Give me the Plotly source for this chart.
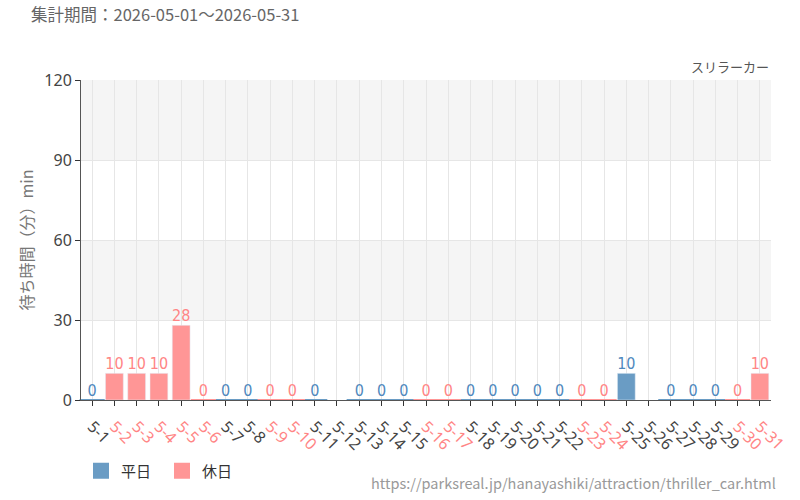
import plotly.graph_objects as go

days = ["5-1", "5-2", "5-3", "5-4", "5-5", "5-6", "5-7", "5-8", "5-9", "5-10",
        "5-11", "5-12", "5-13", "5-14", "5-15", "5-16", "5-17", "5-18", "5-19", "5-20",
        "5-21", "5-22", "5-23", "5-24", "5-25", "5-26", "5-27", "5-28", "5-29", "5-30", "5-31"]
wait_min = [0, 10, 10, 10, 28, 0, 0, 0, 0, 0,
            0, None, 0, 0, 0, 0, 0, 0, 0, 0,
            0, 0, 0, 0, 10, None, 0, 0, 0, 0, 10]
holiday = [False, True, True, True, True, True, False, False, True, True,
           False, False, False, False, False, True, True, False, False, False,
           False, False, True, True, False, False, False, False, False, True, True]
y_ticks = [0, 30, 60, 90, 120]

BLUE = "#6a9cc4"
PINK = "#ff9696"
BLUE_T = "#4f88bd"
PINK_T = "#ff8585"
FONT = "Noto Sans CJK JP, Noto Sans, sans-serif"
NUM_FONT = "DejaVu Sans Condensed, Liberation Sans Narrow, sans-serif"

fig = go.Figure()

for is_hol, name, col, tcol in [(False, "平日", BLUE, BLUE_T), (True, "休日", PINK, PINK_T)]:
    xs = [d for d, h, v in zip(days, holiday, wait_min) if h == is_hol and v is not None]
    ys = [v for d, h, v in zip(days, holiday, wait_min) if h == is_hol and v is not None]
    fig.add_trace(go.Bar(x=xs, y=ys, name=name, marker_color=col, width=0.8,
                         hoverinfo="skip", showlegend=False))
    zx = [x for x, y in zip(xs, ys) if y == 0]
    fig.add_trace(go.Scatter(x=zx, y=[0] * len(zx), mode="markers", showlegend=False,
                             marker=dict(symbol="line-ew", size=18,
                                         line=dict(color=col, width=2)),
                             cliponaxis=False, hoverinfo="skip"))
    fig.add_trace(go.Scatter(x=xs, y=ys, mode="text", text=[str(v) for v in ys],
                             textposition="top center", showlegend=False,
                             textfont=dict(family=NUM_FONT, size=16, color=tcol),
                             cliponaxis=False, hoverinfo="skip"))
    # legend entry
    fig.add_trace(go.Scatter(x=[None], y=[None], mode="markers", name=name,
                             marker=dict(symbol="square", size=16, color=col),
                             hoverinfo="skip"))

ticktext = [f"<span style='color:{PINK_T if h else '#444'}'>{d}</span>"
            for d, h in zip(days, holiday)]

# alternating background bands
for lo, hi in [(30, 60), (90, 120)]:
    fig.add_hrect(y0=lo, y1=hi, fillcolor="#f5f5f5", line_width=0, layer="below")

fig.update_layout(
    width=800, height=500,
    margin=dict(l=81, r=29, t=80, b=100),
    paper_bgcolor="white", plot_bgcolor="white",
    barmode="overlay",
    font=dict(family=FONT, color="#444"),
    xaxis=dict(categoryorder="array", categoryarray=days,
               tickvals=days, ticktext=ticktext, tickangle=45,
               tickfont=dict(size=16, family="Noto Sans, sans-serif"),
               ticklabelstandoff=5,
               showgrid=True, gridcolor="#e6e6e6",
               showline=True, linecolor="#555", linewidth=1,
               ticks="outside", ticklen=5, tickcolor="#333",
               range=[-0.5, 30.5], fixedrange=True),
    yaxis=dict(range=[0, 120], tickvals=y_ticks,
               tickfont=dict(size=16, color="#444", family="Noto Sans, sans-serif"),
               showgrid=True, gridcolor="#e6e6e6", zeroline=False,
               showline=True, linecolor="#555", linewidth=1,
               ticks="outside", ticklen=5, tickcolor="#333",
               title=dict(text="待ち時間（分）min", font=dict(size=16, color="#777"),
                          standoff=6)),
    legend=dict(orientation="h", x=0.0, xanchor="left", y=-0.17, yanchor="top",
                font=dict(size=15, color="#333"), itemwidth=30,
                entrywidth=36, entrywidthmode="pixels",
                traceorder="normal", itemsizing="trace"),
    annotations=[
        dict(text="集計期間：2026-05-01～2026-05-31", xref="paper", yref="paper",
             x=-0.075, y=1.205, xanchor="left", yanchor="middle", showarrow=False,
             font=dict(size=16.5, color="#666")),
        dict(text="スリラーカー", xref="paper", yref="paper", x=1.0, y=1.0,
             xanchor="right", yanchor="bottom", showarrow=False, yshift=2,
             font=dict(size=13, color="#555")),
        dict(text="https://parksreal.jp/hanayashiki/attraction/thriller_car.html",
             xref="paper", yref="paper", x=1.01, y=-0.257, xanchor="right",
             yanchor="middle", showarrow=False,
             font=dict(size=14.5, color="#999")),
    ],
)

fig.write_html("out.html")
